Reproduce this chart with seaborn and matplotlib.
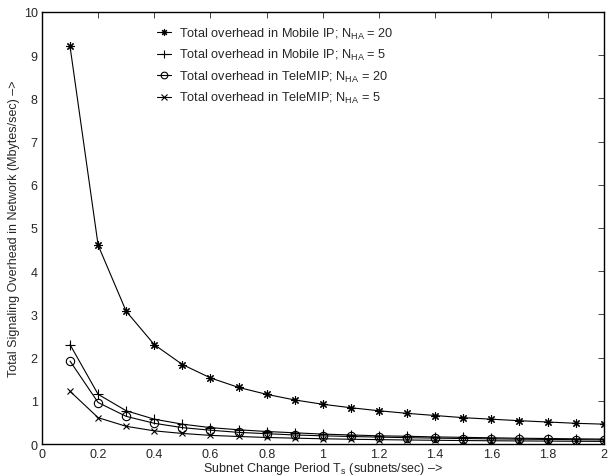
import matplotlib
matplotlib.use("Agg")
import matplotlib.pyplot as plt
import seaborn as sns

# Période de changement de sous-réseau (axe x)
periods = [0.1, 0.2, 0.3, 0.4, 0.5, 0.6, 0.7, 0.8, 0.9, 1.0,
           1.1, 1.2, 1.3, 1.4, 1.5, 1.6, 1.7, 1.8, 1.9, 2.0]

# Surcharge totale (Mbytes/sec)
mip_ha20 = [9.2, 4.6, 3.07, 2.3, 1.84, 1.53, 1.31, 1.15, 1.02, 0.92,
            0.84, 0.77, 0.71, 0.66, 0.61, 0.575, 0.54, 0.51, 0.48, 0.46]
mip_ha5 = [2.3, 1.15, 0.77, 0.575, 0.46, 0.38, 0.33, 0.29, 0.26, 0.23,
           0.21, 0.19, 0.18, 0.165, 0.155, 0.145, 0.135, 0.128, 0.121, 0.115]
telemip_ha20 = [1.92, 0.96, 0.64, 0.48, 0.38, 0.32, 0.27, 0.24, 0.21, 0.19,
                0.175, 0.16, 0.148, 0.137, 0.128, 0.12, 0.113, 0.107, 0.101, 0.096]
telemip_ha5 = [1.22, 0.61, 0.41, 0.305, 0.245, 0.2, 0.175, 0.152, 0.136, 0.122,
               0.111, 0.102, 0.094, 0.087, 0.081, 0.076, 0.072, 0.068, 0.064, 0.061]

labels = [r"Total overhead in Mobile IP; N$_{\rm HA}$ = 20",
          r"Total overhead in Mobile IP; N$_{\rm HA}$ = 5",
          r"Total overhead in TeleMIP; N$_{\rm HA}$ = 20",
          r"Total overhead in TeleMIP; N$_{\rm HA}$ = 5"]

sns.set_style("white")
plt.rcParams["font.family"] = ["Liberation Sans", "DejaVu Sans"]
plt.rcParams["mathtext.fontset"] = "custom"
plt.rcParams["mathtext.rm"] = "Liberation Sans"
plt.rcParams["mathtext.it"] = "Liberation Sans:italic"

fig = plt.figure(figsize=(6.08, 4.77), dpi=100)
ax = fig.add_axes([0.069, 0.067, 0.924, 0.906])

# --- Les quatre courbes, toutes en noir avec des marqueurs différents ---
series = [(mip_ha20, (8, 2, 0), 6, "k"), (mip_ha5, "+", 7, "k"),
          (telemip_ha20, "o", 6, "none"), (telemip_ha5, "x", 5, "k")]
for (vals, mk, ms, fc), lab in zip(series, labels):
    sns.lineplot(x=periods, y=vals, ax=ax, color="k", linewidth=0.8,
                 marker=mk, markersize=ms, markerfacecolor=fc,
                 markeredgecolor="k", markeredgewidth=0.8, label=lab)

ax.set_xlim(0, 2)
ax.set_ylim(0, 10)
ax.set_xticks([0, 0.2, 0.4, 0.6, 0.8, 1, 1.2, 1.4, 1.6, 1.8, 2])
ax.set_xticklabels(["0", "0.2", "0.4", "0.6", "0.8", "1", "1.2", "1.4", "1.6", "1.8", "2"])
ax.set_yticks(range(0, 11))
ax.tick_params(direction="in", top=True, right=True, labelsize=9, length=4,
               width=0.6, pad=3)
for s in ax.spines.values():
    s.set_linewidth(1.0)
    s.set_color("k")

ax.set_xlabel(r"Subnet Change Period T$_{\rm s}$ (subnets/sec) –>", fontsize=9, labelpad=0)
ax.set_ylabel("Total Signaling Overhead in Network (Mbytes/sec) –>", fontsize=9, labelpad=3)

ax.legend(loc="upper left", bbox_to_anchor=(0.205, 0.968), frameon=False,
          fontsize=9.2, handlelength=1.1, handletextpad=0.6, labelspacing=0.5,
          borderpad=0, borderaxespad=0, markerscale=0.8)

plt.savefig("out.png", dpi=100)
plt.close()
